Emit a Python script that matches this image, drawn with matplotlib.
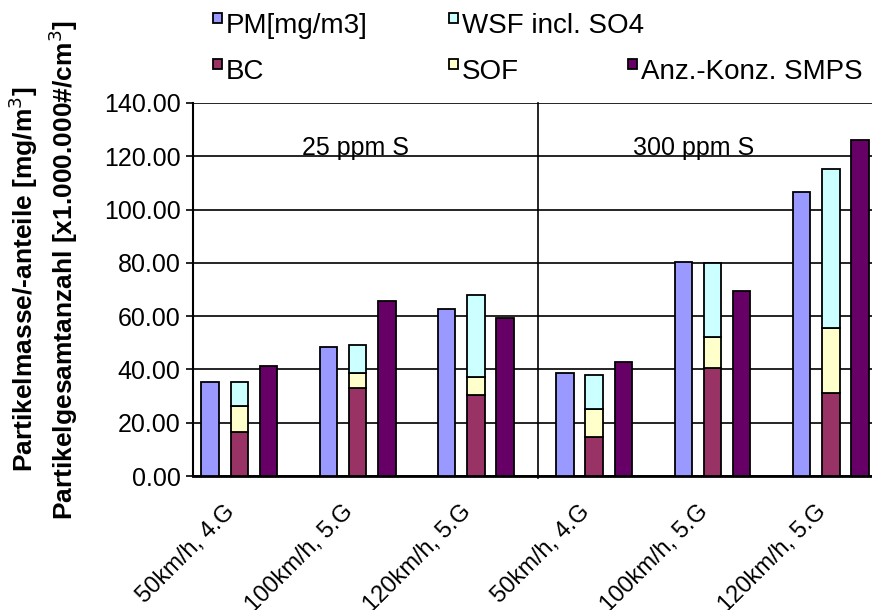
import numpy as np
import matplotlib
matplotlib.use("Agg")
import matplotlib.pyplot as plt
from matplotlib.patches import Rectangle

plt.rcParams['font.family'] = ['Liberation Sans', 'DejaVu Sans']

# data
categories = ["50km/h, 4.G", "100km/h, 5.G", "120km/h, 5.G",
              "50km/h, 4.G", "100km/h, 5.G", "120km/h, 5.G"]
pm   = [35.4, 48.3, 62.6, 38.5, 80.4, 106.7]   # PM[mg/m3]
bc   = [16.6, 33.1, 30.4, 14.5, 40.6, 31.3]    # BC
sof  = [9.7, 5.4, 6.9, 10.5, 11.7, 24.1]       # SOF
wsf  = [9.1, 10.5, 30.5, 12.9, 27.5, 59.7]     # WSF incl. SO4
smps = [41.4, 65.7, 59.4, 42.9, 69.4, 126.1]   # Anz.-Konz. SMPS
sections = ["25 ppm S", "300 ppm S"]

c_pm, c_bc, c_sof, c_wsf, c_smps = "#9999FF", "#993366", "#FFFFCC", "#CCFFFF", "#660066"

W, H = 872, 610
fig = plt.figure(figsize=(W / 100, H / 100), dpi=100)
ax = fig.add_axes([193 / W, 1 - 476 / H, 1 - 193 / W, (476 - 103) / H])

x = np.arange(len(categories))
bw = 0.148
off = 0.247
ekw = dict(edgecolor="black", linewidth=1.3, zorder=3)

ax.bar(x - off, pm, bw, color=c_pm, **ekw)
ax.bar(x, bc, bw, color=c_bc, **ekw)
ax.bar(x, sof, bw, bottom=bc, color=c_sof, **ekw)
ax.bar(x, wsf, bw, bottom=np.add(bc, sof), color=c_wsf, **ekw)
ax.bar(x + off, smps, bw, color=c_smps, **ekw)

ax.set_xlim(-0.391, 5.348)
ax.set_ylim(0, 140)
ax.set_yticks(np.arange(0, 141, 20))
ax.set_yticklabels(["%.2f" % v for v in np.arange(0, 141, 20)])
ax.yaxis.grid(True, color="black", linewidth=1.2, zorder=0)
ax.set_axisbelow(True)

ax.set_xticks(x)
ax.set_xticklabels(categories, rotation=45, ha="right", fontsize=17)
ax.tick_params(axis="x", length=0, pad=18)
ax.tick_params(axis="y", length=5, width=1.2, pad=4, labelsize=18, direction="out")

for s in ["top", "right"]:
    ax.spines[s].set_visible(False)
ax.spines["left"].set_linewidth(1.5)
ax.spines["bottom"].set_linewidth(2)

# divider between the two sulphur levels
ax.plot([2.525, 2.525], [-0.8, 140], color="black", linewidth=1.2, clip_on=False, zorder=4)

ax.text(0.986, 120.4, sections[0], ha="center", va="baseline", fontsize=18, zorder=5)
ax.text(3.84, 120.4, sections[1], ha="center", va="baseline", fontsize=18, zorder=5)

fig.text(23 / W, 1 - 279 / H, "Partikelmasse/-anteile [mg/m$^3$]", rotation=90,
         ha="center", va="center", fontsize=19, fontweight="bold")
fig.text(63 / W, 1 - 270 / H, "Partikelgesamtanzahl [x1.000.000#/cm$^3$]", rotation=90,
         ha="center", va="center", fontsize=19, fontweight="bold")

# legend drawn by hand (Excel-style overlapping columns)
leg_labels = ["PM[mg/m3]", "WSF incl. SO4", "BC", "SOF", "Anz.-Konz. SMPS"]
leg_colors = [c_pm, c_wsf, c_bc, c_sof, c_smps]
leg_pos = [(213, 13), (449, 13), (213, 59), (449, 59), (628, 59)]
for lab, col, (px, py) in zip(leg_labels, leg_colors, leg_pos):
    fig.patches.append(Rectangle((px / W, 1 - (py + 10) / H), 9 / W, 10 / H,
                                 transform=fig.transFigure, facecolor=col,
                                 edgecolor="black", linewidth=1.3))
    fig.text((px + 13) / W, 1 - (py + 20) / H, lab, ha="left", va="baseline", fontsize=20)

fig.savefig("out.png", dpi=100)
